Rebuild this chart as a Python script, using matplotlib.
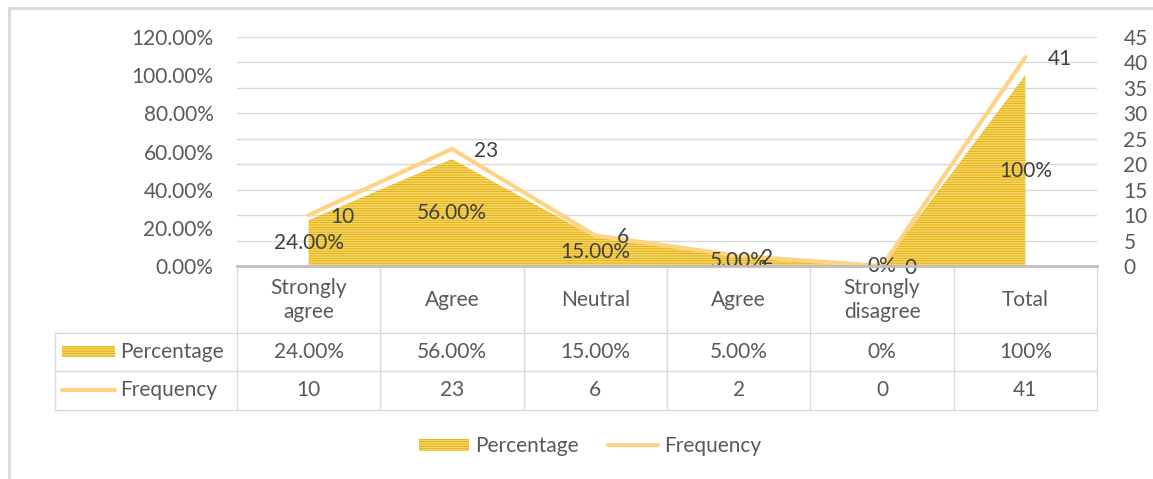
import matplotlib
matplotlib.use("Agg")
import matplotlib.pyplot as plt
from matplotlib.patches import Rectangle, Patch
from matplotlib.lines import Line2D
from matplotlib.ticker import FuncFormatter
import matplotlib.transforms as mtransforms

plt.rcParams['font.family'] = ['Lato', 'DejaVu Sans']
plt.rcParams['hatch.linewidth'] = 0.55

# data
categories = ["Strongly\nagree", "Agree", "Neutral", "Agree", "Strongly\ndisagree", "Total"]
percentage = [0.24, 0.56, 0.15, 0.05, 0.0, 1.00]
frequency = [10, 23, 6, 2, 0, 41]
pct_labels = ["24.00%", "56.00%", "15.00%", "5.00%", "0%", "100%"]
series_names = ["Percentage", "Frequency"]

AREA_FACE = '#F8D666'
AREA_HATCH = '#DAA800'
HATCH = '-------'
LINE_COLOR = '#FFD386'
TEXT = '#595959'
LABEL = '#404040'
GRID = '#D9D9D9'
FS = 15

W, H = 1153, 479
fig = plt.figure(figsize=(W / 100, H / 100), dpi=100)

# plot area in pixels: x 237..1097, y 37..266
ax_l, ax_r, ax_t, ax_b = 237, 1097, 37, 266
ax = fig.add_axes([ax_l / W, 1 - ax_b / H, (ax_r - ax_l) / W, (ax_b - ax_t) / H])
ax2 = ax.twinx()
ax.set_zorder(ax2.get_zorder() + 1)
ax.patch.set_visible(False)

x = list(range(len(categories)))
ax.set_xlim(-0.5, len(categories) - 0.5)
ax.set_ylim(0, 1.2)
ax2.set_ylim(0, 45)
ax.set_yticks([i * 0.2 for i in range(7)])
ax.yaxis.set_major_formatter(FuncFormatter(lambda v, p: f"{v * 100:.2f}%"))
ax2.set_yticks(range(0, 46, 5))
ax.set_xticks([])

for a in (ax, ax2):
    for s in a.spines.values():
        s.set_visible(False)
    a.tick_params(length=0, labelsize=FS, labelcolor=TEXT)
ax.tick_params(axis='y', pad=17)
ax2.tick_params(axis='y', pad=19)
ax2.yaxis.grid(True, color=GRID, lw=1)
ax2.set_axisbelow(True)

# area series
ax.fill_between(x, percentage, 0, facecolor=AREA_FACE, edgecolor=AREA_HATCH,
                hatch=HATCH, linewidth=0, zorder=2)
# line series on secondary scale
ax.plot(x, frequency, color=LINE_COLOR, lw=3.0, solid_capstyle='round',
        solid_joinstyle='miter', transform=ax2.transData, zorder=3)

# data labels
for xi, p, lab in zip(x, percentage, pct_labels):
    ax.text(xi, p / 2, lab, ha='center', va='center', fontsize=FS, color=LABEL, zorder=4)
for xi, f in zip(x, frequency):
    ax.annotate(str(f), (xi, f), xycoords=ax2.transData, xytext=(22, -2),
                textcoords='offset pixels', ha='left', va='center',
                fontsize=FS, color=LABEL, zorder=4)

# data table under the plot
hpx = ax_b - ax_t
wpx = ax_r - ax_l
def yax(ypix):
    return (ax_b - ypix) / hpx

blend = mtransforms.blended_transform_factory(ax.transData, ax.transAxes)
row_y = [266, 333, 371, 410]
left_x = (55 - ax_l) / wpx

# axis / table top line
ax.plot([-0.5, len(categories) - 0.5], [0, 0], color='#BFBFBF', lw=2,
        transform=blend, clip_on=False, zorder=5)
for yp in row_y[1:]:
    ax.plot([left_x, 1], [yax(yp)] * 2, color=GRID, lw=1,
            transform=ax.transAxes, clip_on=False)
for i in range(len(categories) + 1):
    ax.plot([i - 0.5] * 2, [yax(266), yax(410)], color=GRID, lw=1,
            transform=blend, clip_on=False)
ax.plot([left_x] * 2, [yax(333), yax(410)], color=GRID, lw=1,
        transform=ax.transAxes, clip_on=False)

for xi, cat, p, f in zip(x, categories, pct_labels, frequency):
    ax.text(xi, yax(300), cat, ha='center', va='center', fontsize=FS,
            color=TEXT, linespacing=1.25, transform=blend)
    ax.text(xi, yax(352), p, ha='center', va='center', fontsize=FS,
            color=TEXT, transform=blend)
    ax.text(xi, yax(390), str(f), ha='center', va='center', fontsize=FS,
            color=TEXT, transform=blend)

# legend keys inside the table
kx0, kx1 = (62 - ax_l) / wpx, (115 - ax_l) / wpx
ax.add_patch(Rectangle((kx0, yax(357)), kx1 - kx0, yax(346) - yax(357),
                       facecolor=AREA_FACE, edgecolor=AREA_HATCH, hatch=HATCH,
                       lw=0, transform=ax.transAxes, clip_on=False))
ax.plot([kx0, kx1], [yax(390)] * 2, color=LINE_COLOR, lw=3.0,
        solid_capstyle='round', transform=ax.transAxes, clip_on=False)
for yp, name in zip([352, 390], series_names):
    ax.text((120 - ax_l) / wpx, yax(yp), name, ha='left', va='center',
            fontsize=FS, color=TEXT, transform=ax.transAxes)

# bottom legend
handles = [Patch(facecolor=AREA_FACE, edgecolor=AREA_HATCH, hatch=HATCH, lw=0),
           Line2D([], [], color=LINE_COLOR, lw=3.0, solid_capstyle='round')]
leg = fig.legend(handles, series_names, loc='center', bbox_to_anchor=(590 / W, 1 - 446 / H),
                 ncol=2, frameon=False, fontsize=FS, handlelength=2.4, handleheight=0.5,
                 handletextpad=0.3, columnspacing=1.4, labelcolor=TEXT)

# chart frame (left and top edges visible)
fig.add_artist(Line2D([9 / W, 9 / W], [0, 1 - 8 / H], color=GRID, lw=2))
fig.add_artist(Line2D([9 / W, 1], [1 - 8 / H, 1 - 8 / H], color=GRID, lw=2))

fig.savefig("out.png", dpi=100)
